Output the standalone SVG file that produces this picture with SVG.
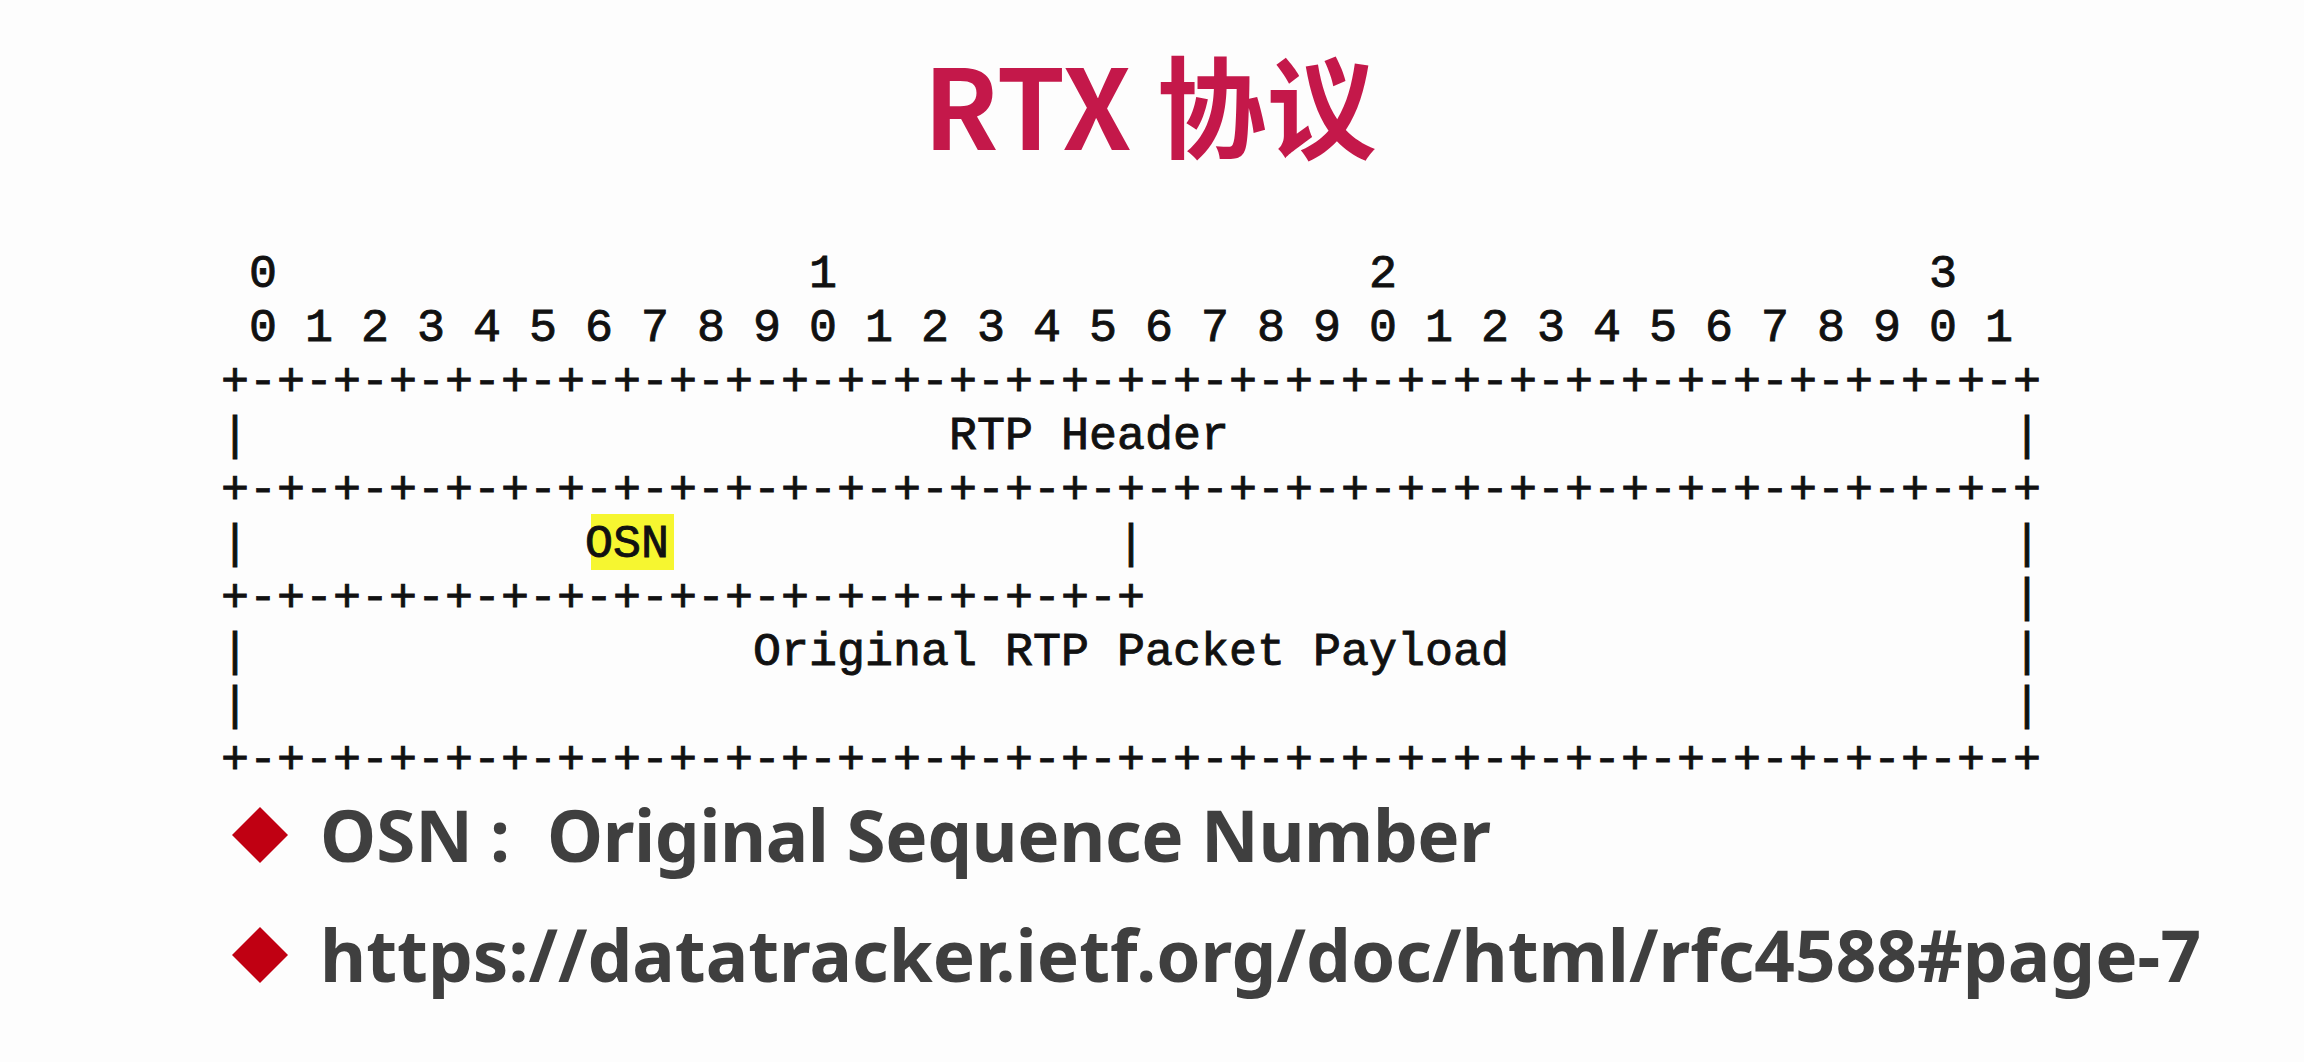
<svg xmlns="http://www.w3.org/2000/svg" width="2304" height="1062" viewBox="0 0 2304 1062">
  <style>
    .title { font-family: "Noto Sans CJK SC", "Noto Sans", sans-serif; font-weight: 700; font-size: 110px; fill: #c4184a; }
    .mono { font-family: "Liberation Mono", "DejaVu Sans Mono", monospace; font-size: 46.67px; fill: #111; stroke: #111; stroke-width: 0.9px; white-space: pre; }
    .bullet-text { font-family: "Noto Sans", "Noto Sans CJK SC", sans-serif; font-weight: 700; font-size: 71px; fill: #3f3f3f; }
    .diamond { fill: #c00012; }
    .mark { fill: #f6f630; }
  </style>

  <rect width="2304" height="1062" fill="#fdfdfd"/>

  <!-- heading -->
  <text class="title" x="1150" y="150" text-anchor="middle">RTX 协议</text>

  <!-- RTX packet layout, RFC 4588 style ASCII art; 28px per column -->
  <g id="bit-ruler">
    <text class="mono" x="221" y="287" xml:space="preserve"> 0                   1                   2                   3</text>
    <text class="mono" x="221" y="341" xml:space="preserve"> 0 1 2 3 4 5 6 7 8 9 0 1 2 3 4 5 6 7 8 9 0 1 2 3 4 5 6 7 8 9 0 1</text>
  </g>

  <g id="rtp-header">
    <text class="mono" x="221" y="395" xml:space="preserve">+-+-+-+-+-+-+-+-+-+-+-+-+-+-+-+-+-+-+-+-+-+-+-+-+-+-+-+-+-+-+-+-+</text>
    <text class="mono" x="221" y="449" xml:space="preserve">|                         RTP Header                            |</text>
    <text class="mono" x="221" y="503" xml:space="preserve">+-+-+-+-+-+-+-+-+-+-+-+-+-+-+-+-+-+-+-+-+-+-+-+-+-+-+-+-+-+-+-+-+</text>
  </g>

  <g id="osn-field">
    <rect class="mark" x="591" y="514" width="83" height="56"/>
    <text class="mono" x="221" y="557" xml:space="preserve">|            OSN                |                               |</text>
    <text class="mono" x="221" y="611" xml:space="preserve">+-+-+-+-+-+-+-+-+-+-+-+-+-+-+-+-+                               |</text>
  </g>

  <g id="payload">
    <text class="mono" x="221" y="665" xml:space="preserve">|                  Original RTP Packet Payload                  |</text>
    <text class="mono" x="221" y="719" xml:space="preserve">|                                                               |</text>
    <text class="mono" x="221" y="773" xml:space="preserve">+-+-+-+-+-+-+-+-+-+-+-+-+-+-+-+-+-+-+-+-+-+-+-+-+-+-+-+-+-+-+-+-+</text>
  </g>

  <!-- notes -->
  <g id="note-osn">
    <polygon class="diamond" points="260,807 288,835 260,863 232,835"/>
    <text class="bullet-text" y="862"><tspan x="320">OSN</tspan><tspan x="500" text-anchor="middle">:</tspan><tspan x="547" textLength="944" lengthAdjust="spacing">Original Sequence Number</tspan></text>
  </g>
  <g id="note-link">
    <polygon class="diamond" points="260,927 288,955 260,983 232,955"/>
    <text class="bullet-text" x="320" y="982" textLength="1881" lengthAdjust="spacing">https://datatracker.ietf.org/doc/html/rfc4588#page-7</text>
  </g>
</svg>
